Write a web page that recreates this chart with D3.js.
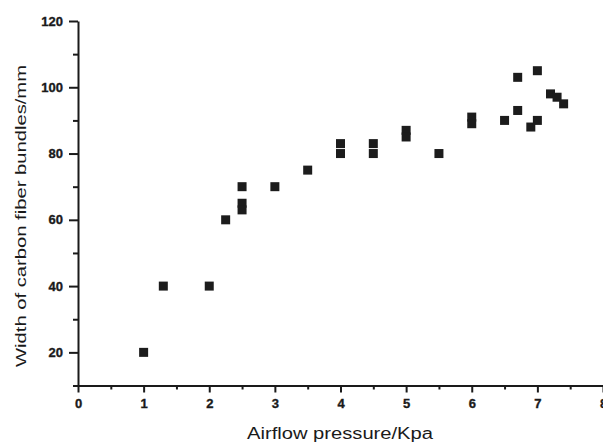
<!DOCTYPE html>
<html>
<head>
<meta charset="utf-8">
<script src="https://cdn.jsdelivr.net/npm/d3@7"></script>
<style>
  html, body { margin: 0; padding: 0; background: #fff; }
  svg { display: block; }
  .axis path, .axis line { stroke: #1a1a1a; }
  .axis text { font-family: Arial, "Liberation Sans", sans-serif; font-weight: bold; font-size: 13px; fill: #1a1a1a; stroke: #1a1a1a; stroke-width: 0.35px; }
</style>
</head>
<body>
<svg id="chart" width="603" height="444"></svg>
<script>
// Airflow pressure (kPa) against measured width of the spread carbon fiber bundles (mm)
const pressure = [1, 1.3, 2, 2.25, 2.5, 2.5, 2.5, 3, 3.5, 4, 4, 4.5, 4.5, 5, 5, 5.5, 6, 6, 6.5, 6.7, 6.7, 6.9, 7, 7, 7.2, 7.3, 7.4];
const bundleWidth = [20, 40, 40, 60, 70, 65, 63, 70, 75, 83, 80, 83, 80, 87, 85, 80, 91, 89, 90, 103, 93, 88, 105, 90, 98, 97, 95];

const xMajorTicks = [0, 1, 2, 3, 4, 5, 6, 7, 8];
const xMinorTicks = [0.5, 1.5, 2.5, 3.5, 4.5, 5.5, 6.5, 7.5];
const yMajorTicks = [20, 40, 60, 80, 100, 120];
const yMinorTicks = [10, 30, 50, 70, 90, 110];

const xTitle = "Airflow pressure/Kpa";
const yTitle = "Width of carbon fiber bundles/mm";

const svg = d3.select("#chart");
const plotLeft = 78, plotRight = 603, plotTop = 21, plotBottom = 385.5;

const x = d3.scaleLinear().domain([0, 8]).range([plotLeft, plotRight]);
const y = d3.scaleLinear().domain([10, 120]).range([plotBottom, plotTop]);

// minor ticks first so the major axes sit on top
svg.append("g").attr("class", "axis")
  .attr("transform", `translate(0,${plotBottom})`)
  .call(d3.axisBottom(x).tickValues(xMinorTicks).tickSize(4).tickSizeOuter(0).tickFormat(""))
  .call(g => g.select(".domain").remove())
  .selectAll("line").attr("stroke-width", 2);

svg.append("g").attr("class", "axis")
  .attr("transform", `translate(${plotLeft},0)`)
  .call(d3.axisLeft(y).tickValues(yMinorTicks).tickSize(5).tickSizeOuter(0).tickFormat(""))
  .call(g => g.select(".domain").remove())
  .selectAll("line").attr("stroke-width", 2);

const xAxis = svg.append("g").attr("class", "axis")
  .attr("transform", `translate(0,${plotBottom})`)
  .call(d3.axisBottom(x).tickValues(xMajorTicks).tickSize(7).tickSizeOuter(0).tickPadding(6).tickFormat(d3.format("d")));
xAxis.select(".domain").attr("stroke-width", 2);
xAxis.selectAll("line").attr("stroke-width", 2);

const yAxis = svg.append("g").attr("class", "axis")
  .attr("transform", `translate(${plotLeft},0)`)
  .call(d3.axisLeft(y).tickValues(yMajorTicks).tickSize(9).tickSizeOuter(0).tickPadding(6).tickFormat(d3.format("d")));
yAxis.select(".domain").attr("stroke-width", 2);
yAxis.selectAll("line").attr("stroke-width", 2);

// data points as filled squares
const size = 9;
svg.append("g")
  .selectAll("rect")
  .data(pressure.map((p, i) => ({ p, w: bundleWidth[i] })))
  .join("rect")
  .attr("x", d => x(d.p) - size / 2)
  .attr("y", d => y(d.w) - size / 2)
  .attr("width", size)
  .attr("height", size)
  .attr("fill", "#1c1c1c");

// axis titles
svg.append("text")
  .attr("x", 340).attr("y", 438.5)
  .attr("text-anchor", "middle")
  .attr("font-family", "Arial, 'Liberation Sans', sans-serif")
  .attr("font-size", 16)
  .attr("fill", "#1a1a1a")
  .attr("textLength", 186)
  .attr("lengthAdjust", "spacingAndGlyphs")
  .text(xTitle);

svg.append("text")
  .attr("transform", "translate(26,216) rotate(-90)")
  .attr("text-anchor", "middle")
  .attr("font-family", "Arial, 'Liberation Sans', sans-serif")
  .attr("font-size", 15.5)
  .attr("fill", "#1a1a1a")
  .attr("textLength", 302)
  .attr("lengthAdjust", "spacingAndGlyphs")
  .text(yTitle);
</script>
</body>
</html>
